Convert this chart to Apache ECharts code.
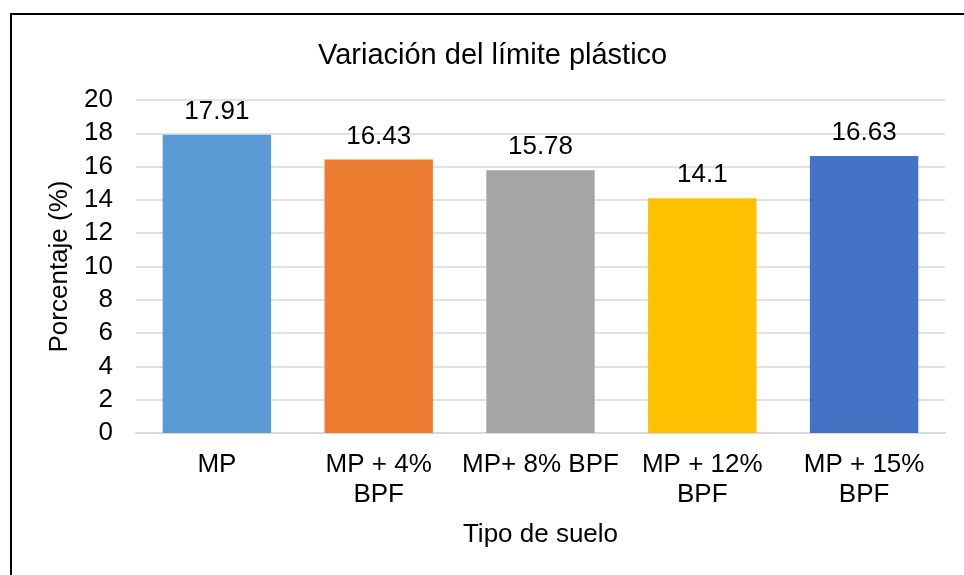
<!DOCTYPE html>
<html>
<head>
<meta charset="utf-8">
<script src="https://cdn.jsdelivr.net/npm/echarts@6/dist/echarts.min.js"></script>
<style>
  * { margin: 0; padding: 0; }
  body { background: #fff; }
</style>
</head>
<body>
<!-- contenedor del gráfico -->
<div id="main" style="width: 964px;height: 575px;"></div>
<script>
  var categories = ['MP', 'MP + 4%\nBPF', 'MP+ 8% BPF', 'MP + 12%\nBPF', 'MP + 15%\nBPF'];
  var values = [17.91, 16.43, 15.78, 14.1, 16.63];
  var barColors = ['#5B9BD5', '#ED7D31', '#A5A5A5', '#FFC000', '#4472C4'];
  var yTicks = { min: 0, max: 20, interval: 2 };

  var font = 'Liberation Sans, Arial, sans-serif';
  var chart = echarts.init(document.getElementById('main'));

  chart.setOption({
    animation: false,
    textStyle: { fontFamily: font },
    graphic: [{ // marco del gráfico
      type: 'rect',
      shape: { x: 11, y: 14, width: 980, height: 600 },
      style: { fill: 'none', stroke: '#000', lineWidth: 2 },
      silent: true
    }],
    title: {
      text: 'Variación del límite plástico',
      left: 318,
      top: 41,
      padding: 0,
      textStyle: { fontSize: 29, fontWeight: 'normal', color: '#000', fontFamily: font }
    },
    grid: { left: 136, right: 19, top: 100, bottom: 142 },
    xAxis: {
      type: 'category',
      data: categories,
      name: 'Tipo de suelo',
      nameLocation: 'middle',
      nameGap: 89,
      nameTextStyle: { fontSize: 26, color: '#000', verticalAlign: 'top' },
      axisLine: { lineStyle: { color: '#D9D9D9', width: 2 } },
      axisTick: { show: false },
      axisLabel: { fontSize: 26, color: '#000', margin: 17, lineHeight: 30, interval: 0 }
    },
    yAxis: {
      type: 'value',
      min: yTicks.min,
      max: yTicks.max,
      interval: yTicks.interval,
      name: 'Porcentaje (%)',
      nameLocation: 'middle',
      nameGap: 57,
      nameTextStyle: { fontSize: 26, color: '#000' },
      axisLine: { show: false },
      axisTick: { show: false },
      axisLabel: { fontSize: 26, color: '#000', margin: 23 },
      splitLine: { lineStyle: { color: '#D9D9D9', width: 1.5 } }
    },
    series: [{
      type: 'bar',
      barWidth: '67%',
      data: values.map(function (v, i) {
        return { value: v, itemStyle: { color: barColors[i] } };
      }),
      label: {
        show: true,
        position: 'top',
        distance: 10,
        fontSize: 26,
        color: '#000'
      }
    }]
  });
</script>
</body>
</html>
